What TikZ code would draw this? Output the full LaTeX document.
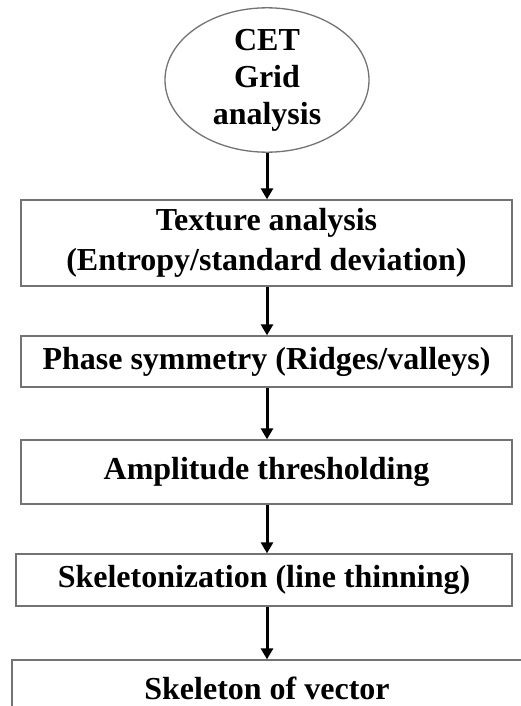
\documentclass[tikz,border=0pt]{standalone}
\usepackage{fontspec}
\setmainfont{Liberation Serif}
\usetikzlibrary{shapes.geometric,arrows.meta}
\begin{document}
\begin{tikzpicture}[x=1pt,y=-1pt,
  stepbox/.style={draw=black!55,line width=1.3pt,rectangle,inner sep=0pt,align=center,
    font=\fontsize{32}{40}\selectfont\bfseries},
  flow/.style={-{Triangle[length=11pt,width=12pt]},line width=3pt,black}]
\useasboundingbox (0,0) rectangle (520,706);
\fill[white] (0,0) rectangle (520,706);
\node[draw=black!55,line width=1.3pt,ellipse,minimum width=204pt,minimum height=135pt,inner sep=0pt,align=center,
  font=\fontsize{32}{37}\selectfont\bfseries] (e) at (267,80) {CET\\Grid\\analysis};
\node[stepbox,minimum width=491pt,minimum height=86pt] (b1) at (266.5,243) {Texture analysis\\(Entropy/standard deviation)};
\node[stepbox,minimum width=491pt,minimum height=51pt] (b2) at (266.5,361.5) {Phase symmetry (Ridges/valleys)};
\node[stepbox,minimum width=491pt,minimum height=64pt] (b3) at (266.5,472) {Amplitude thresholding};
\node[stepbox,minimum width=496pt,minimum height=52pt] (b4) at (264,580) {Skeletonization (line thinning)};
\node[stepbox,minimum width=510pt,minimum height=56pt] (b5) at (267,688) {Skeleton of vector};
\draw[flow] (e.south -| 267,0) -- (b1.north -| 267,0);
\draw[flow] (b1.south -| 267,0) -- (b2.north -| 267,0);
\draw[flow] (b2.south -| 267,0) -- (b3.north -| 267,0);
\draw[flow] (b3.south -| 267,0) -- (b4.north -| 267,0);
\draw[flow] (b4.south -| 267,0) -- (b5.north -| 267,0);
\end{tikzpicture}
\end{document}
